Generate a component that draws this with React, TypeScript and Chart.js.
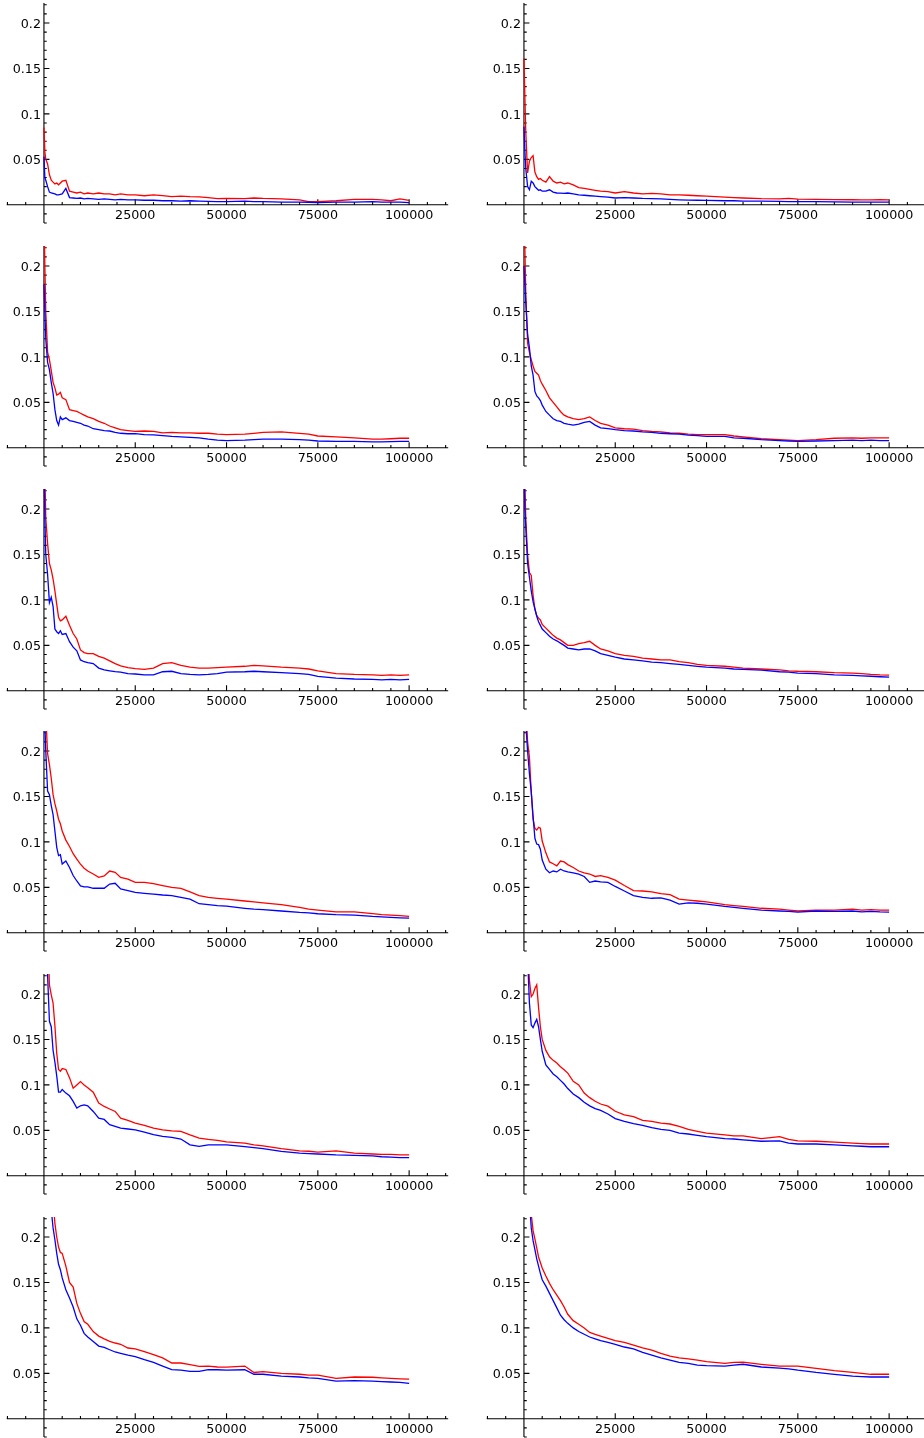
import React, { useEffect, useRef } from 'react';
import { Chart, registerables } from 'chart.js';

Chart.register(...registerables);

// shared x positions (iterations)
const X = [0, 250, 500, 1000, 1500, 2000, 2500, 3000, 3500, 4000, 4500, 5000, 6000, 7000, 8000, 9000, 10000, 11000, 12000, 13500, 15000, 16500, 18000, 19500, 21000, 23000, 25000, 27500, 30000, 32500, 35000, 37500, 40000, 42500, 45000, 47500, 50000, 55000, 57500, 60000, 65000, 70000, 72500, 75000, 80000, 85000, 90000, 92500, 95000, 97500, 100000];

const RED_1 = [0.085, 0.058, 0.05, 0.045, 0.033, 0.027, 0.025, 0.023, 0.024, 0.022, 0.024, 0.026, 0.027, 0.015, 0.014, 0.013, 0.014, 0.012, 0.013, 0.012, 0.013, 0.012, 0.012, 0.011, 0.012, 0.011, 0.011, 0.010, 0.011, 0.010, 0.009, 0.0095, 0.009, 0.0088, 0.008, 0.0068, 0.007, 0.0068, 0.0075, 0.007, 0.0065, 0.0055, 0.0035, 0.0035, 0.0045, 0.006, 0.006, 0.0055, 0.0045, 0.0066, 0.005];
const BLUE_1 = [0.053, 0.03, 0.027, 0.02, 0.014, 0.013, 0.0125, 0.012, 0.011, 0.011, 0.0115, 0.012, 0.018, 0.008, 0.0075, 0.007, 0.0075, 0.0065, 0.007, 0.0065, 0.006, 0.0065, 0.006, 0.0055, 0.006, 0.0055, 0.0055, 0.005, 0.005, 0.0045, 0.0045, 0.004, 0.0045, 0.004, 0.0037, 0.0035, 0.0035, 0.004, 0.0035, 0.0035, 0.003, 0.003, 0.0028, 0.0025, 0.003, 0.003, 0.0035, 0.003, 0.003, 0.003, 0.0025];

const RED_2 = [0.161, 0.12, 0.08, 0.035, 0.048, 0.052, 0.054, 0.036, 0.031, 0.028, 0.029, 0.027, 0.025, 0.031, 0.026, 0.024, 0.025, 0.023, 0.024, 0.022, 0.019, 0.018, 0.017, 0.016, 0.015, 0.0145, 0.013, 0.0145, 0.013, 0.012, 0.0125, 0.012, 0.011, 0.011, 0.0105, 0.01, 0.0095, 0.0085, 0.008, 0.0075, 0.0068, 0.0066, 0.007, 0.0062, 0.006, 0.0058, 0.0056, 0.0055, 0.0055, 0.0056, 0.0055];
const BLUE_2 = [0.086, 0.06, 0.04, 0.02, 0.0165, 0.026, 0.024, 0.02, 0.018, 0.016, 0.0165, 0.015, 0.015, 0.0165, 0.014, 0.013, 0.0128, 0.0125, 0.013, 0.012, 0.011, 0.0105, 0.01, 0.0095, 0.009, 0.0085, 0.0075, 0.008, 0.0075, 0.007, 0.0068, 0.0065, 0.006, 0.0055, 0.0052, 0.005, 0.0048, 0.0045, 0.0045, 0.004, 0.004, 0.0038, 0.0035, 0.0035, 0.0035, 0.0032, 0.003, 0.003, 0.003, 0.003, 0.003];

const RED_3 = [0.26, 0.2, 0.15, 0.105, 0.097, 0.085, 0.072, 0.066, 0.058, 0.059, 0.061, 0.055, 0.053, 0.042, 0.041, 0.040, 0.038, 0.036, 0.034, 0.032, 0.029, 0.027, 0.024, 0.022, 0.020, 0.019, 0.018, 0.0185, 0.018, 0.0165, 0.017, 0.0165, 0.0165, 0.016, 0.016, 0.015, 0.0145, 0.015, 0.016, 0.017, 0.0175, 0.016, 0.015, 0.013, 0.012, 0.011, 0.0095, 0.0095, 0.01, 0.0105, 0.0105];
const BLUE_3 = [0.18, 0.15, 0.12, 0.094, 0.086, 0.072, 0.06, 0.042, 0.03, 0.025, 0.034, 0.031, 0.033, 0.030, 0.029, 0.028, 0.027, 0.025, 0.024, 0.021, 0.020, 0.019, 0.0185, 0.017, 0.016, 0.0155, 0.0155, 0.0145, 0.0143, 0.0135, 0.0125, 0.012, 0.0115, 0.011, 0.0095, 0.0085, 0.008, 0.0085, 0.009, 0.0095, 0.0095, 0.009, 0.0085, 0.0075, 0.007, 0.007, 0.0065, 0.0065, 0.0068, 0.007, 0.007];

const RED_4 = [0.3, 0.22, 0.17, 0.115, 0.105, 0.097, 0.09, 0.084, 0.082, 0.08, 0.074, 0.07, 0.063, 0.055, 0.05, 0.045, 0.040, 0.036, 0.034, 0.032, 0.031, 0.032, 0.034, 0.030, 0.027, 0.025, 0.022, 0.021, 0.0205, 0.019, 0.018, 0.0175, 0.0165, 0.016, 0.015, 0.0146, 0.0145, 0.0145, 0.013, 0.012, 0.01, 0.009, 0.0085, 0.008, 0.009, 0.0105, 0.011, 0.0105, 0.011, 0.011, 0.011];
const BLUE_4 = [0.2, 0.18, 0.16, 0.125, 0.11, 0.09, 0.08, 0.062, 0.057, 0.055, 0.052, 0.047, 0.04, 0.036, 0.032, 0.030, 0.029, 0.027, 0.026, 0.025, 0.026, 0.028, 0.029, 0.025, 0.022, 0.021, 0.020, 0.019, 0.0185, 0.0175, 0.017, 0.016, 0.0155, 0.015, 0.014, 0.0135, 0.0125, 0.0125, 0.011, 0.0105, 0.009, 0.008, 0.0075, 0.007, 0.0075, 0.008, 0.0085, 0.008, 0.0085, 0.008, 0.008];

const RED_5 = [0.3, 0.24, 0.19, 0.162, 0.14, 0.133, 0.123, 0.11, 0.095, 0.081, 0.077, 0.078, 0.082, 0.072, 0.063, 0.057, 0.045, 0.042, 0.041, 0.041, 0.038, 0.036, 0.033, 0.030, 0.0275, 0.0255, 0.0245, 0.0235, 0.025, 0.030, 0.031, 0.028, 0.026, 0.025, 0.025, 0.0255, 0.026, 0.027, 0.028, 0.0275, 0.026, 0.025, 0.024, 0.022, 0.019, 0.018, 0.0175, 0.017, 0.0175, 0.017, 0.0175];
const BLUE_5 = [0.25, 0.19, 0.15, 0.128, 0.097, 0.103, 0.093, 0.068, 0.065, 0.063, 0.066, 0.062, 0.063, 0.054, 0.048, 0.044, 0.034, 0.032, 0.031, 0.030, 0.025, 0.023, 0.022, 0.021, 0.0205, 0.019, 0.0185, 0.0175, 0.0175, 0.021, 0.0215, 0.019, 0.018, 0.0175, 0.018, 0.019, 0.0205, 0.021, 0.0215, 0.021, 0.02, 0.019, 0.018, 0.016, 0.014, 0.013, 0.0125, 0.012, 0.0125, 0.012, 0.0125];

const RED_6 = [0.28, 0.23, 0.19, 0.15, 0.13, 0.127, 0.105, 0.09, 0.083, 0.08, 0.078, 0.073, 0.069, 0.065, 0.061, 0.058, 0.056, 0.053, 0.05, 0.05, 0.052, 0.053, 0.0545, 0.05, 0.046, 0.044, 0.041, 0.039, 0.038, 0.036, 0.035, 0.034, 0.034, 0.032, 0.031, 0.029, 0.028, 0.027, 0.026, 0.025, 0.024, 0.023, 0.022, 0.0215, 0.021, 0.02, 0.0195, 0.019, 0.018, 0.0175, 0.0173];
const BLUE_6 = [0.25, 0.2, 0.18, 0.14, 0.125, 0.11, 0.098, 0.09, 0.082, 0.076, 0.072, 0.068, 0.064, 0.06, 0.057, 0.055, 0.0525, 0.05, 0.047, 0.046, 0.045, 0.046, 0.046, 0.044, 0.041, 0.039, 0.037, 0.035, 0.034, 0.033, 0.0315, 0.031, 0.030, 0.029, 0.028, 0.027, 0.026, 0.025, 0.024, 0.0235, 0.0228, 0.021, 0.0205, 0.0195, 0.019, 0.0175, 0.017, 0.0165, 0.016, 0.0155, 0.015];

const RED_7 = [0.3, 0.27, 0.24, 0.197, 0.185, 0.17, 0.152, 0.142, 0.134, 0.125, 0.12, 0.112, 0.102, 0.095, 0.087, 0.081, 0.0756, 0.071, 0.068, 0.0647, 0.061, 0.0625, 0.068, 0.0665, 0.061, 0.059, 0.0555, 0.0555, 0.054, 0.052, 0.050, 0.049, 0.045, 0.041, 0.039, 0.038, 0.037, 0.035, 0.034, 0.033, 0.031, 0.028, 0.026, 0.025, 0.023, 0.023, 0.021, 0.02, 0.0195, 0.019, 0.018];
const BLUE_7 = [0.28, 0.23, 0.2, 0.156, 0.152, 0.14, 0.13, 0.112, 0.094, 0.085, 0.086, 0.0756, 0.079, 0.0719, 0.063, 0.057, 0.0515, 0.0505, 0.0505, 0.049, 0.049, 0.049, 0.0537, 0.0545, 0.0482, 0.0464, 0.0445, 0.0435, 0.0425, 0.0416, 0.041, 0.039, 0.037, 0.032, 0.031, 0.030, 0.0294, 0.027, 0.026, 0.0255, 0.024, 0.0225, 0.022, 0.021, 0.02, 0.0195, 0.018, 0.0175, 0.017, 0.0165, 0.0162];

const RED_8 = [0.3, 0.28, 0.25, 0.21, 0.193, 0.155, 0.125, 0.115, 0.113, 0.116, 0.115, 0.101, 0.088, 0.078, 0.076, 0.0737, 0.079, 0.078, 0.075, 0.0719, 0.068, 0.066, 0.0647, 0.062, 0.063, 0.061, 0.058, 0.052, 0.0465, 0.046, 0.045, 0.043, 0.042, 0.037, 0.036, 0.035, 0.034, 0.031, 0.03, 0.029, 0.027, 0.026, 0.025, 0.024, 0.025, 0.025, 0.026, 0.025, 0.0255, 0.025, 0.025];
const BLUE_8 = [0.28, 0.26, 0.23, 0.2, 0.175, 0.155, 0.128, 0.104, 0.0976, 0.097, 0.092, 0.08, 0.07, 0.066, 0.068, 0.067, 0.07, 0.068, 0.067, 0.066, 0.0646, 0.062, 0.0555, 0.057, 0.056, 0.0555, 0.051, 0.046, 0.041, 0.039, 0.038, 0.0385, 0.036, 0.0316, 0.033, 0.0325, 0.0316, 0.029, 0.028, 0.027, 0.025, 0.024, 0.0235, 0.0228, 0.024, 0.0235, 0.024, 0.023, 0.0235, 0.023, 0.0228];

const RED_9 = [0.4, 0.37, 0.33, 0.27, 0.21, 0.199, 0.19, 0.165, 0.135, 0.117, 0.115, 0.118, 0.117, 0.108, 0.0964, 0.1, 0.1036, 0.1, 0.097, 0.092, 0.08, 0.0763, 0.0735, 0.0708, 0.0635, 0.061, 0.058, 0.0555, 0.0525, 0.0506, 0.0495, 0.0488, 0.045, 0.0415, 0.040, 0.039, 0.0374, 0.036, 0.034, 0.033, 0.03, 0.0275, 0.027, 0.026, 0.0275, 0.025, 0.024, 0.0235, 0.0235, 0.023, 0.023];
const BLUE_9 = [0.36, 0.32, 0.28, 0.22, 0.17, 0.164, 0.138, 0.125, 0.11, 0.092, 0.092, 0.095, 0.091, 0.088, 0.0818, 0.0745, 0.077, 0.078, 0.077, 0.0708, 0.0635, 0.062, 0.0562, 0.0545, 0.0525, 0.0515, 0.0506, 0.048, 0.0452, 0.0433, 0.0422, 0.0405, 0.034, 0.0323, 0.034, 0.034, 0.034, 0.032, 0.031, 0.03, 0.027, 0.025, 0.0245, 0.024, 0.023, 0.0225, 0.022, 0.021, 0.0205, 0.02, 0.02];

const RED_10 = [0.4, 0.35, 0.3, 0.25, 0.215, 0.197, 0.2, 0.206, 0.21, 0.185, 0.164, 0.15, 0.138, 0.131, 0.127, 0.124, 0.12, 0.1166, 0.113, 0.104, 0.1, 0.091, 0.086, 0.082, 0.079, 0.0766, 0.071, 0.067, 0.065, 0.061, 0.06, 0.058, 0.057, 0.0545, 0.051, 0.049, 0.047, 0.045, 0.044, 0.044, 0.041, 0.043, 0.04, 0.0385, 0.038, 0.037, 0.036, 0.0355, 0.035, 0.035, 0.035];
const BLUE_10 = [0.38, 0.33, 0.29, 0.24, 0.19, 0.166, 0.163, 0.168, 0.172, 0.164, 0.15, 0.137, 0.122, 0.117, 0.112, 0.109, 0.105, 0.101, 0.096, 0.09, 0.086, 0.081, 0.077, 0.074, 0.072, 0.068, 0.063, 0.06, 0.0575, 0.0555, 0.053, 0.051, 0.05, 0.047, 0.046, 0.0445, 0.043, 0.041, 0.0405, 0.0396, 0.038, 0.0385, 0.036, 0.035, 0.035, 0.034, 0.033, 0.0325, 0.032, 0.032, 0.032];

const RED_11 = [0.5, 0.45, 0.42, 0.37, 0.33, 0.28, 0.24, 0.215, 0.2, 0.189, 0.183, 0.182, 0.168, 0.15, 0.145, 0.127, 0.116, 0.107, 0.104, 0.096, 0.091, 0.088, 0.0852, 0.0834, 0.082, 0.0779, 0.077, 0.074, 0.0705, 0.067, 0.0614, 0.0614, 0.0596, 0.0577, 0.058, 0.057, 0.0569, 0.058, 0.051, 0.052, 0.05, 0.049, 0.048, 0.048, 0.0445, 0.046, 0.0457, 0.045, 0.0445, 0.044, 0.0437];
const BLUE_11 = [0.45, 0.42, 0.38, 0.33, 0.28, 0.23, 0.21, 0.197, 0.182, 0.17, 0.164, 0.155, 0.142, 0.133, 0.123, 0.11, 0.103, 0.094, 0.09, 0.085, 0.08, 0.0785, 0.076, 0.0735, 0.072, 0.07, 0.0685, 0.065, 0.062, 0.058, 0.054, 0.0535, 0.0522, 0.0522, 0.054, 0.054, 0.0536, 0.054, 0.049, 0.049, 0.047, 0.046, 0.045, 0.0445, 0.0415, 0.042, 0.0415, 0.041, 0.0405, 0.04, 0.039];

const RED_12 = [0.5, 0.45, 0.4, 0.33, 0.26, 0.225, 0.207, 0.198, 0.188, 0.178, 0.172, 0.166, 0.157, 0.149, 0.142, 0.136, 0.13, 0.123, 0.115, 0.108, 0.104, 0.1, 0.095, 0.093, 0.091, 0.0885, 0.086, 0.084, 0.081, 0.078, 0.0756, 0.072, 0.069, 0.067, 0.066, 0.0645, 0.063, 0.061, 0.062, 0.0623, 0.06, 0.058, 0.058, 0.058, 0.0555, 0.053, 0.051, 0.05, 0.049, 0.049, 0.049];
const BLUE_12 = [0.45, 0.4, 0.36, 0.3, 0.24, 0.21, 0.196, 0.186, 0.176, 0.168, 0.16, 0.153, 0.146, 0.138, 0.13, 0.122, 0.114, 0.109, 0.105, 0.1, 0.096, 0.093, 0.09, 0.088, 0.086, 0.084, 0.082, 0.079, 0.077, 0.073, 0.07, 0.067, 0.0645, 0.062, 0.061, 0.059, 0.0585, 0.058, 0.059, 0.06, 0.057, 0.0557, 0.055, 0.0535, 0.051, 0.049, 0.047, 0.0465, 0.046, 0.046, 0.046];

// axis ticks and labels
const X_MAJOR_TICKS = [25000, 50000, 75000, 100000];
const X_TICK_LABELS = ['25000', '50000', '75000', '100000'];
const Y_MAJOR_TICKS = [0.05, 0.1, 0.15, 0.2];
const Y_TICK_LABELS = ['0.05', '0.1', '0.15', '0.2'];
const X_MINOR_TICKS = [-10000, -5000, 5000, 10000, 15000, 20000, 30000, 35000, 40000, 45000, 55000, 60000, 65000, 70000, 80000, 85000, 90000, 95000, 105000, 110000];
const Y_MINOR_TICKS = [-0.02, -0.01, 0.01, 0.02, 0.03, 0.04, 0.06, 0.07, 0.08, 0.09, 0.11, 0.12, 0.13, 0.14, 0.16, 0.17, 0.18, 0.19, 0.21, 0.22];

const PANELS: number[][][] = [
  [RED_1, BLUE_1], [RED_2, BLUE_2],
  [RED_3, BLUE_3], [RED_4, BLUE_4],
  [RED_5, BLUE_5], [RED_6, BLUE_6],
  [RED_7, BLUE_7], [RED_8, BLUE_8],
  [RED_9, BLUE_9], [RED_10, BLUE_10],
  [RED_11, BLUE_11], [RED_12, BLUE_12],
];

const CANVAS_W = 462;
const CANVAS_H = 243;

const axesPlugin = {
  id: 'sageAxes',
  beforeDatasetsDraw(chart: any) {
    const { ctx, chartArea, scales } = chart;
    const xs = scales.x;
    const ys = scales.y;
    const x0 = xs.getPixelForValue(0);
    const y0 = ys.getPixelForValue(0);
    ctx.save();
    ctx.strokeStyle = '#000';
    ctx.lineWidth = 1.1;
    ctx.beginPath();
    ctx.moveTo(chartArea.left, y0);
    ctx.lineTo(chartArea.right, y0);
    ctx.moveTo(x0, chartArea.top);
    ctx.lineTo(x0, chartArea.bottom);
    // x ticks (pointing up)
    X_MAJOR_TICKS.forEach((v) => {
      const p = xs.getPixelForValue(v);
      ctx.moveTo(p, y0);
      ctx.lineTo(p, y0 - 5.5);
    });
    X_MINOR_TICKS.forEach((v) => {
      const p = xs.getPixelForValue(v);
      ctx.moveTo(p, y0);
      ctx.lineTo(p, y0 - 2.8);
    });
    // y ticks (pointing right)
    Y_MAJOR_TICKS.forEach((v) => {
      const p = ys.getPixelForValue(v);
      ctx.moveTo(x0, p);
      ctx.lineTo(x0 + 5.5, p);
    });
    Y_MINOR_TICKS.forEach((v) => {
      const p = ys.getPixelForValue(v);
      ctx.moveTo(x0, p);
      ctx.lineTo(x0 + 2.8, p);
    });
    ctx.stroke();

    ctx.fillStyle = '#000';
    ctx.font = '12.7px "DejaVu Sans"';
    ctx.textAlign = 'center';
    ctx.textBaseline = 'alphabetic';
    X_MAJOR_TICKS.forEach((v, i) => {
      ctx.fillText(X_TICK_LABELS[i], xs.getPixelForValue(v), y0 + 14);
    });
    ctx.textAlign = 'right';
    Y_MAJOR_TICKS.forEach((v, i) => {
      ctx.fillText(Y_TICK_LABELS[i], x0 - 3, ys.getPixelForValue(v) + 4.6);
    });
    ctx.restore();
  },
};

function Panel({ red, blue, left, top }: { red: number[]; blue: number[]; left: number; top: number }) {
  const ref = useRef<HTMLCanvasElement>(null);
  useEffect(() => {
    const canvas = ref.current;
    if (!canvas) return;
    const chart = new Chart(canvas, {
      type: 'line',
      data: {
        datasets: [
          {
            data: X.map((x, i) => ({ x, y: blue[i] })),
            borderColor: 'rgb(0,0,255)',
            borderWidth: 1.3,
            pointRadius: 0,
            fill: false,
            tension: 0,
          },
          {
            data: X.map((x, i) => ({ x, y: red[i] })),
            borderColor: 'rgb(255,0,0)',
            borderWidth: 1.3,
            pointRadius: 0,
            fill: false,
            tension: 0,
          },
        ],
      },
      options: {
        animation: false,
        responsive: false,
        maintainAspectRatio: false,
        events: [],
        layout: { padding: { left: 6.7, right: CANVAS_W - 448.2, top: 3, bottom: 20 } },
        scales: {
          x: { type: 'linear', min: -10200, max: 110700, display: false },
          y: { type: 'linear', min: -0.02, max: 0.222, display: false },
        },
        plugins: { legend: { display: false }, tooltip: { enabled: false } },
      },
      plugins: [axesPlugin],
    } as any);
    return () => chart.destroy();
  }, [red, blue]);
  return (
    <canvas
      ref={ref}
      width={CANVAS_W}
      height={CANVAS_H}
      style={{ position: 'absolute', left, top, width: CANVAS_W, height: CANVAS_H }}
    />
  );
}

export default function App() {
  return (
    <div
      style={{
        position: 'absolute',
        left: 0,
        top: 0,
        width: 924,
        height: 1438,
        overflow: 'hidden',
        background: '#fff',
      }}
    >
      {PANELS.map(([red, blue], i) => {
        const row = Math.floor(i / 2);
        const col = i % 2;
        return (
          <Panel
            key={i}
            red={red}
            blue={blue}
            left={col * 480}
            top={Math.round(0.2 + 242.75 * row)}
          />
        );
      })}
    </div>
  );
}
